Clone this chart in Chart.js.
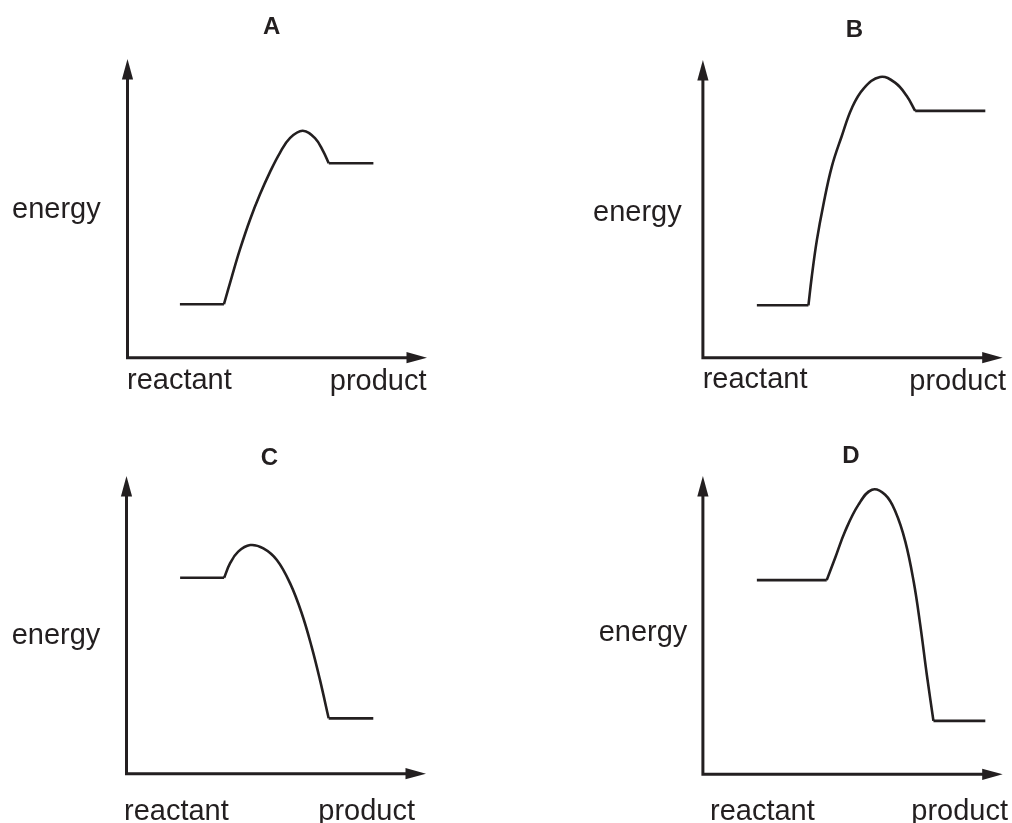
<!DOCTYPE html>
<html>
<head>
<meta charset="utf-8">
<script src="https://cdn.jsdelivr.net/npm/chart.js@4"></script>
<style>
  html, body { margin: 0; padding: 0; background: #ffffff; }
  #wrap { position: relative; width: 1012px; height: 823px; overflow: hidden; background: #ffffff; }
  #wrap canvas { position: absolute; left: 0; top: 0; }
</style>
</head>
<body>
<div id="wrap">
  <canvas id="cA" width="1012" height="823"></canvas>
  <canvas id="cB" width="1012" height="823"></canvas>
  <canvas id="cC" width="1012" height="823"></canvas>
  <canvas id="cD" width="1012" height="823"></canvas>
</div>
<script>
// ---------- data (axes run 0..100 from origin to arrow tip) ----------
const panelTitles = ['A', 'B', 'C', 'D'];
const yAxisLabel = 'energy';
const xStartLabel = 'reactant';
const xEndLabel = 'product';

// Panel A: reactant level, hump, product level
const curveA_x = [17.5, 32.2, 34.8, 37.6, 40.9, 44.2, 47.6, 50.9, 54.3, 58.5, 62.6, 65.4, 67.2, 82.1];
const curveA_y = [17.9, 17.9, 27.0, 36.4, 46.2, 54.6, 62.2, 68.6, 73.6, 76.0, 73.5, 69.0, 65.1, 65.1];

// Panel B
const curveB_x = [18.0, 35.2, 36.3, 38.0, 40.2, 43.0, 46.3, 49.7, 53.6, 59.1, 64.1, 68.0, 70.8, 94.2];
const curveB_y = [17.6, 17.6, 27.1, 39.4, 51.5, 64.2, 74.4, 83.9, 90.4, 94.3, 92.4, 87.9, 82.9, 82.9];

// Panel C
const curveC_x = [17.9, 32.6, 34.6, 37.3, 41.3, 45.7, 50.2, 54.6, 58.5, 61.8, 64.6, 67.5, 82.4];
const curveC_y = [65.8, 65.8, 70.7, 74.6, 76.8, 75.7, 71.8, 64.0, 53.9, 42.7, 31.5, 18.6, 18.6];

// Panel D
const curveD_x = [18.0, 41.3, 44.1, 47.4, 51.9, 56.4, 60.8, 64.2, 67.5, 70.3, 72.5, 74.7, 76.9, 94.2];
const curveD_y = [65.1, 65.1, 72.5, 81.4, 90.4, 95.4, 93.7, 88.1, 78.1, 64.6, 50.1, 33.3, 17.9, 17.9];

// ---------- layout (pixel geometry of each panel; not data) ----------
const W = 1012, H = 823;
const layouts = [
  { id: 'cA', ox: 127.5, oy: 357.7, tx: 427.0, ty: 59.0,
    title: [271.7, 34.0], energy: [12.0, 218.0], react: [127.0, 388.5], prod: [426.5, 390.0] },
  { id: 'cB', ox: 702.9, oy: 357.7, tx: 1002.7, ty: 60.0,
    title: [854.3, 36.5], energy: [593.0, 220.5], react: [702.7, 387.5], prod: [1006.0, 389.5] },
  { id: 'cC', ox: 126.5, oy: 773.7, tx: 426.0, ty: 476.0,
    title: [269.3, 464.5], energy: [11.7, 644.0], react: [124.0, 820.0], prod: [415.0, 820.0] },
  { id: 'cD', ox: 702.9, oy: 774.3, tx: 1002.7, ty: 476.0,
    title: [851.0, 462.7], energy: [598.7, 641.0], react: [710.0, 819.5], prod: [1008.0, 819.5] }
];
const curves = [[curveA_x, curveA_y], [curveB_x, curveB_y], [curveC_x, curveC_y], [curveD_x, curveD_y]];

const INK = '#231f20';
const FONT = '"Liberation Sans", Arial, Helvetica, sans-serif';

const decorPlugin = {
  id: 'panelDecor',
  afterDraw(chart, args, opts) {
    const ctx = chart.ctx;
    const xs = chart.scales.x, ys = chart.scales.y;
    const ox = xs.getPixelForValue(0), tx = xs.getPixelForValue(100);
    const oy = ys.getPixelForValue(0), ty = ys.getPixelForValue(100);
    const aLen = 20.5, aHalf = 5.6;
    ctx.save();
    ctx.strokeStyle = INK;
    ctx.fillStyle = INK;
    ctx.lineWidth = 3.0;
    ctx.lineCap = 'butt';
    ctx.lineJoin = 'miter';
    ctx.beginPath();
    ctx.moveTo(ox, ty + aLen - 1);
    ctx.lineTo(ox, oy);
    ctx.lineTo(tx - aLen + 1, oy);
    ctx.stroke();
    // arrow heads
    ctx.beginPath();
    ctx.moveTo(ox, ty);
    ctx.lineTo(ox - aHalf, ty + aLen);
    ctx.lineTo(ox + aHalf, ty + aLen);
    ctx.closePath();
    ctx.fill();
    ctx.beginPath();
    ctx.moveTo(tx, oy);
    ctx.lineTo(tx - aLen, oy - aHalf);
    ctx.lineTo(tx - aLen, oy + aHalf);
    ctx.closePath();
    ctx.fill();
    // texts
    ctx.textBaseline = 'alphabetic';
    ctx.font = 'bold 24px ' + FONT;
    ctx.textAlign = 'center';
    ctx.fillText(opts.title, opts.pos.title[0], opts.pos.title[1]);
    ctx.font = '29px ' + FONT;
    ctx.textAlign = 'left';
    ctx.fillText(yAxisLabel, opts.pos.energy[0], opts.pos.energy[1]);
    ctx.fillText(xStartLabel, opts.pos.react[0], opts.pos.react[1]);
    ctx.textAlign = 'right';
    ctx.fillText(xEndLabel, opts.pos.prod[0], opts.pos.prod[1]);
    ctx.restore();
  }
};

function pts(xArr, yArr, from, to) {
  const out = [];
  for (let i = from; i <= to; i++) out.push({ x: xArr[i], y: yArr[i] });
  return out;
}

layouts.forEach((L, i) => {
  const [cx, cy] = curves[i];
  const n = cx.length;
  const lineStyle = { borderColor: INK, borderWidth: 2.6, pointRadius: 0, fill: false, borderJoinStyle: 'round' };
  new Chart(document.getElementById(L.id), {
    type: 'line',
    data: {
      datasets: [
        Object.assign({ data: pts(cx, cy, 0, 1), tension: 0 }, lineStyle),
        Object.assign({ data: pts(cx, cy, 1, n - 2), tension: 0.4 }, lineStyle),
        Object.assign({ data: pts(cx, cy, n - 2, n - 1), tension: 0 }, lineStyle)
      ]
    },
    options: {
      responsive: false,
      animation: false,
      events: [],
      layout: { padding: { left: L.ox, top: L.ty, right: W - L.tx, bottom: H - L.oy } },
      scales: {
        x: { type: 'linear', min: 0, max: 100, display: false },
        y: { type: 'linear', min: 0, max: 100, display: false }
      },
      plugins: {
        legend: { display: false },
        tooltip: { enabled: false },
        title: { display: false },
        panelDecor: { title: panelTitles[i], pos: L }
      }
    },
    plugins: [decorPlugin]
  });
});
</script>
</body>
</html>
